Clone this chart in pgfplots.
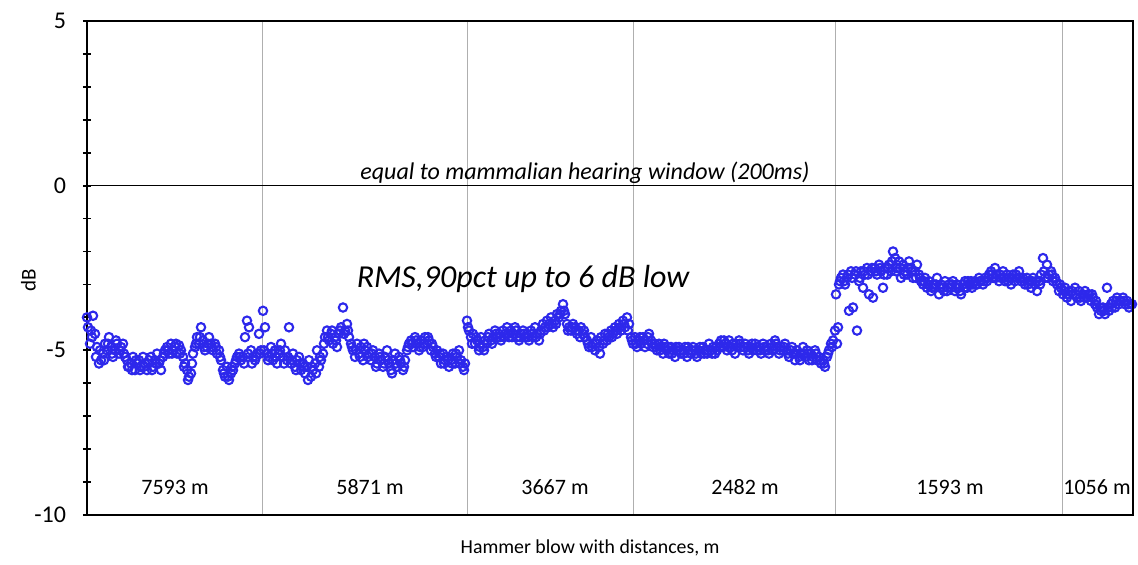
\documentclass[border=0pt]{standalone}
\usepackage{pgfplots}
\pgfplotsset{compat=1.18}
\usepackage{fontspec}
\setmainfont{Carlito}
\definecolor{ptblue}{RGB}{45,40,235}
\definecolor{gridgray}{RGB}{175,175,175}
\pgfplotsset{myscatter/.style={only marks, mark=o, mark size=2.1pt, mark options={draw=ptblue, line width=1.05pt, fill=white, solid}}}
\begin{document}
\begin{tikzpicture}
\path[use as bounding box] (0,0) rectangle (569pt,282.5pt);
\begin{axis}[
  name=ax,
  at={(43.5pt,25pt)}, anchor=south west,
  scale only axis, width=523pt, height=247pt,
  xmin=0, xmax=1046, ymin=-10, ymax=5,
  clip=false,
  axis line style={black, line width=1.2pt},
  xtick={175,380,546,748,975}, xticklabels={},
  x tick style={draw=none},
  xmajorgrids, grid style={gridgray, line width=0.5pt},
  ytick={-10,-5,0,5}, minor ytick={-9,-8,-7,-6,-4,-3,-2,-1,1,2,3,4},
  y tick style={black, line width=0.9pt},
  major tick length=4pt, minor tick length=4pt,
  tick align=center,
  ytick pos=left,
  /pgf/number format/assume math mode=true,
  yticklabel style={font=\fontsize{12}{14}\selectfont, xshift=-5pt},
  xlabel={Hammer blow with distances, m},
  xlabel style={font=\fontsize{9.9}{11}\selectfont, at={(axis description cs:0.481,-0.067)}, anchor=center},
  ylabel={dB},
  ylabel style={font=\fontsize{10.5}{12}\selectfont, at={(axis description cs:-0.056,0.476)}, anchor=center},
]
\addplot[black, line width=0.6pt, no marks] coordinates {(0,0) (1046,0)};
\addplot[myscatter] table {
x y
0 -4.0
1 -4.3
3 -4.8
4 -4.4
6 -3.95
8 -4.5
10 -4.9
12 -5.4
14 -5.3
16 -5.1
18 -4.8
20 -5.0
22 -4.6
24 -4.9
26 -5.2
28 -5.0
30 -4.8
32 -5.1
34 -4.9
36 -4.8
38 -5.2
40 -5.3
42 -5.5
44 -5.4
46 -5.2
48 -5.6
50 -5.4
52 -5.3
54 -5.5
56 -5.2
58 -5.4
60 -5.6
62 -5.3
64 -5.2
66 -5.5
68 -5.3
70 -5.1
72 -5.4
74 -5.6
76 -5.2
78 -5.0
80 -4.9
82 -5.1
84 -4.8
86 -5.0
88 -4.9
90 -5.1
92 -4.85
94 -5.0
96 -5.2
98 -5.4
100 -5.6
102 -5.8
104 -5.7
106 -5.1
108 -4.9
110 -4.6
112 -4.8
114 -4.3
116 -4.7
118 -5.0
120 -4.9
122 -4.6
124 -4.8
126 -5.0
128 -4.8
130 -5.1
132 -5.0
134 -5.3
136 -5.6
138 -5.8
140 -5.5
142 -5.9
144 -5.7
146 -5.6
148 -5.4
150 -5.2
152 -5.1
154 -5.3
156 -5.2
158 -4.6
160 -4.1
162 -4.3
164 -5.0
166 -5.2
168 -5.3
170 -5.1
172 -4.5
174 -5.0
176 -3.8
178 -4.3
180 -5.1
182 -5.2
184 -4.9
186 -5.3
188 -5.0
190 -5.4
192 -5.1
194 -4.8
196 -5.2
198 -5.0
200 -5.3
202 -4.3
204 -5.4
206 -5.1
208 -5.5
210 -5.3
212 -5.2
214 -5.6
216 -5.4
218 -5.7
220 -5.5
222 -5.3
224 -5.8
226 -5.6
228 -5.4
230 -5.0
232 -5.5
234 -5.3
236 -5.1
238 -4.6
240 -4.4
242 -4.7
244 -4.5
246 -4.8
248 -4.6
250 -4.9
252 -4.5
254 -4.3
256 -3.7
258 -4.4
260 -4.2
262 -4.6
264 -4.8
266 -5.0
268 -5.2
270 -4.8
272 -5.1
274 -4.9
276 -5.3
278 -5.0
280 -4.9
282 -5.1
284 -5.3
286 -5.0
288 -5.2
290 -5.4
292 -5.1
294 -5.3
296 -5.5
298 -5.2
300 -5.0
302 -5.4
304 -5.6
306 -5.3
308 -5.1
310 -5.5
312 -5.2
314 -5.4
316 -5.6
318 -5.3
320 -5.0
322 -4.8
324 -4.7
326 -4.9
328 -4.6
330 -4.8
332 -5.0
334 -4.7
336 -4.9
338 -4.6
340 -4.8
342 -4.7
344 -5.0
346 -4.9
348 -5.1
350 -5.0
352 -5.2
354 -5.4
356 -5.1
358 -5.3
360 -5.2
362 -5.5
364 -5.3
366 -5.1
368 -5.4
370 -5.2
372 -5.0
374 -5.3
376 -5.5
378 -5.4
380 -4.1
382 -4.4
384 -4.6
386 -4.5
388 -4.8
390 -4.7
392 -5.0
394 -4.6
396 -4.9
398 -4.7
400 -4.8
402 -4.5
404 -4.7
406 -4.6
408 -4.4
410 -4.6
412 -4.5
414 -4.7
416 -4.4
418 -4.5
420 -4.3
422 -4.6
424 -4.4
426 -4.5
428 -4.3
430 -4.6
432 -4.7
434 -4.5
436 -4.4
438 -4.6
440 -4.5
442 -4.7
444 -4.4
446 -4.6
448 -4.3
450 -4.5
452 -4.7
454 -4.4
456 -4.2
458 -4.3
460 -4.1
462 -4.2
464 -4.0
466 -4.3
468 -4.1
470 -3.9
472 -4.0
474 -3.8
476 -3.6
478 -3.9
480 -4.2
482 -4.3
484 -4.4
486 -4.2
488 -4.3
490 -4.5
492 -4.4
494 -4.3
496 -4.5
498 -4.6
500 -4.7
502 -4.9
504 -4.6
506 -4.8
508 -5.0
510 -4.7
512 -4.9
514 -4.6
516 -4.8
518 -4.5
520 -4.7
522 -4.6
524 -4.4
526 -4.5
528 -4.3
530 -4.5
532 -4.2
534 -4.4
536 -4.1
538 -4.3
540 -4.0
542 -4.2
544 -4.6
546 -4.8
548 -4.6
550 -4.9
552 -4.7
554 -4.8
556 -4.6
558 -4.9
560 -4.8
562 -4.5
564 -4.7
566 -4.9
568 -4.8
570 -5.0
572 -4.8
574 -4.9
576 -5.1
578 -4.9
580 -5.0
582 -5.1
584 -4.9
586 -5.0
588 -5.2
590 -5.0
592 -4.9
594 -5.1
596 -5.0
598 -4.9
600 -5.2
602 -5.0
604 -5.1
606 -4.9
608 -5.0
610 -5.2
612 -5.0
614 -5.1
616 -4.9
618 -5.0
620 -5.1
622 -4.8
624 -5.0
626 -4.9
628 -5.1
630 -5.0
632 -4.8
634 -4.7
636 -4.9
638 -4.8
640 -5.0
642 -4.7
644 -4.9
646 -4.8
648 -5.1
650 -4.9
652 -4.7
654 -4.9
656 -5.0
658 -4.8
660 -4.9
662 -5.1
664 -4.9
666 -5.0
668 -4.8
670 -5.0
672 -4.9
674 -5.1
676 -4.8
678 -5.0
680 -4.9
682 -5.1
684 -4.8
686 -5.0
688 -4.7
690 -4.9
692 -5.1
694 -4.9
696 -5.0
698 -4.8
700 -5.0
702 -5.2
704 -5.0
706 -5.1
708 -5.3
710 -5.0
712 -5.2
714 -5.1
716 -4.9
718 -5.2
720 -5.0
722 -5.3
724 -5.1
726 -5.2
728 -5.0
730 -5.3
732 -5.2
734 -5.4
736 -5.3
738 -5.5
740 -5.2
742 -5.0
744 -4.8
746 -4.7
748 -4.4
749 -3.3
750 -4.8
751 -4.3
752 -3.0
754 -2.8
756 -2.7
758 -3.0
760 -2.8
762 -3.8
764 -2.6
766 -3.7
768 -2.7
770 -4.4
772 -2.9
774 -2.6
776 -3.1
778 -2.7
780 -2.5
782 -3.3
784 -2.6
786 -3.4
788 -2.5
790 -2.7
792 -2.4
794 -2.6
796 -3.1
798 -2.5
800 -2.7
802 -2.4
804 -2.6
806 -2.0
808 -2.2
810 -2.5
812 -2.3
814 -2.8
816 -2.4
818 -2.6
820 -2.7
822 -2.3
824 -2.5
826 -2.8
828 -2.6
830 -2.4
832 -2.7
834 -2.9
836 -3.0
838 -2.8
840 -3.1
842 -2.9
844 -3.2
846 -3.0
848 -3.1
850 -2.8
852 -3.3
854 -3.0
856 -3.1
858 -2.9
860 -3.2
862 -3.0
864 -3.1
866 -2.9
868 -3.2
870 -3.0
872 -3.1
874 -3.3
876 -3.0
878 -2.9
880 -3.1
882 -3.0
884 -2.9
886 -3.0
888 -2.9
890 -3.0
892 -2.8
894 -2.9
896 -3.0
898 -2.8
900 -2.9
902 -2.7
904 -2.6
906 -2.8
908 -2.5
910 -2.7
912 -2.9
914 -2.8
916 -2.6
918 -2.9
920 -2.7
922 -2.8
924 -3.0
926 -2.7
928 -2.9
930 -2.8
932 -2.6
934 -2.9
936 -2.8
938 -3.0
940 -2.8
942 -2.9
944 -3.1
946 -2.8
948 -3.0
950 -3.2
952 -2.9
954 -2.7
956 -2.2
958 -2.8
960 -2.4
962 -2.7
964 -2.6
966 -2.9
968 -2.8
970 -3.0
972 -3.2
974 -3.1
976 -3.3
978 -3.1
980 -3.4
982 -3.2
984 -3.5
986 -3.3
988 -3.1
990 -3.4
992 -3.2
994 -3.5
996 -3.3
998 -3.2
1000 -3.4
1002 -3.3
1004 -3.5
1006 -3.4
1008 -3.6
1010 -3.7
1012 -3.9
1014 -3.8
1016 -3.7
1018 -3.9
1020 -3.1
1022 -3.8
1024 -3.6
1026 -3.5
1028 -3.7
1030 -3.4
1032 -3.6
1034 -3.5
1036 -3.4
1038 -3.6
1040 -3.5
1042 -3.7
1044 -3.6
};
\addplot[myscatter] table {
x y
5 -4.6
9 -5.2
13 -5.0
17 -5.3
21 -4.8
25 -5.1
29 -4.7
33 -5.0
37 -5.1
41 -5.5
45 -5.6
49 -5.3
53 -5.6
57 -5.5
61 -5.4
65 -5.6
69 -5.4
73 -5.3
77 -5.1
81 -5.0
85 -5.1
89 -4.8
93 -5.1
97 -5.5
101 -5.9
105 -5.4
109 -4.8
113 -4.6
117 -4.9
121 -4.8
125 -4.9
129 -4.9
133 -5.2
137 -5.7
141 -5.8
145 -5.5
149 -5.3
153 -5.2
157 -5.4
161 -5.1
165 -5.4
169 -5.2
173 -5.1
177 -5.0
181 -5.3
185 -5.1
189 -5.2
193 -5.0
197 -5.4
201 -5.2
205 -5.3
209 -5.6
213 -5.4
217 -5.5
221 -5.9
225 -5.5
229 -5.7
233 -5.2
237 -4.8
241 -4.6
245 -4.4
249 -4.7
253 -4.4
257 -4.5
261 -4.4
265 -4.9
269 -5.0
273 -5.2
277 -4.8
281 -5.2
285 -5.1
289 -5.5
293 -5.2
297 -5.4
301 -5.3
305 -5.7
309 -5.4
313 -5.3
317 -5.5
321 -4.9
325 -4.8
329 -4.7
333 -4.9
337 -4.8
341 -4.6
345 -4.8
349 -5.2
353 -5.1
357 -5.4
361 -5.3
365 -5.4
369 -5.1
373 -5.4
377 -5.6
381 -4.3
385 -4.8
389 -4.6
393 -4.9
397 -5.0
401 -4.6
405 -4.8
409 -4.5
413 -4.6
417 -4.6
421 -4.5
425 -4.6
429 -4.4
433 -4.6
437 -4.5
441 -4.6
445 -4.5
449 -4.6
453 -4.5
457 -4.4
461 -4.3
465 -4.2
469 -4.2
473 -3.9
477 -3.8
481 -4.4
485 -4.3
489 -4.4
493 -4.6
497 -4.4
501 -4.8
505 -4.9
509 -4.8
513 -5.1
517 -4.7
521 -4.5
525 -4.6
529 -4.4
533 -4.3
537 -4.2
541 -4.4
545 -4.7
549 -4.8
553 -4.6
557 -4.7
561 -4.6
565 -4.8
569 -4.9
573 -5.0
577 -4.8
581 -4.9
585 -5.1
589 -4.9
593 -5.0
597 -5.1
601 -4.9
605 -5.0
609 -5.1
613 -4.9
617 -5.1
621 -5.0
625 -5.1
629 -4.9
633 -4.9
637 -4.7
641 -4.9
645 -5.0
649 -4.8
653 -4.8
657 -4.9
661 -5.0
665 -4.8
669 -4.9
673 -5.0
677 -4.9
681 -5.0
685 -4.9
689 -4.8
693 -5.0
697 -4.9
701 -5.1
705 -4.9
709 -5.1
713 -5.3
717 -5.1
721 -5.1
725 -5.3
729 -5.1
733 -5.3
737 -5.4
741 -5.1
745 -4.9
753 -2.9
757 -2.9
761 -2.7
765 -2.8
769 -2.6
773 -2.8
777 -2.6
781 -2.7
785 -2.5
789 -2.6
793 -2.5
797 -2.7
801 -2.5
805 -2.3
809 -2.6
813 -2.5
817 -2.7
821 -2.5
825 -2.6
829 -2.8
833 -2.8
837 -2.9
841 -3.0
845 -3.1
849 -3.0
853 -3.1
857 -3.2
861 -3.1
865 -3.0
869 -3.1
873 -3.2
877 -3.1
881 -2.9
885 -3.1
889 -3.0
893 -2.9
897 -2.9
901 -2.8
905 -2.7
909 -2.8
913 -2.7
917 -2.8
921 -2.9
925 -2.8
929 -2.7
933 -2.8
937 -2.9
941 -3.0
945 -2.9
949 -2.9
953 -3.0
957 -2.6
961 -2.8
965 -2.7
969 -2.9
973 -3.0
977 -3.2
981 -3.3
985 -3.2
989 -3.3
993 -3.4
997 -3.4
1001 -3.3
1005 -3.3
1009 -3.5
1013 -3.7
1017 -3.8
1021 -3.7
1025 -3.7
1029 -3.5
1033 -3.5
1037 -3.5
1041 -3.6
1045 -3.6
};
\node[font=\fontsize{12}{14}\selectfont\itshape] at (axis cs:498,0.39) {equal to mammalian hearing window (200ms)};
\node[font=\fontsize{16}{18}\selectfont\itshape] at (axis cs:436,-2.82) {RMS,90pct up to 6 dB low};
\node[font=\fontsize{11}{13}\selectfont] at (axis cs:88,-9.15) {7593 m};
\node[font=\fontsize{11}{13}\selectfont] at (axis cs:283,-9.15) {5871 m};
\node[font=\fontsize{11}{13}\selectfont] at (axis cs:468,-9.15) {3667 m};
\node[font=\fontsize{11}{13}\selectfont] at (axis cs:658,-9.15) {2482 m};
\node[font=\fontsize{11}{13}\selectfont] at (axis cs:863,-9.15) {1593 m};
\node[font=\fontsize{11}{13}\selectfont] at (axis cs:1010,-9.15) {1056 m};
\end{axis}
\draw[black, line width=1.4pt] (ax.north west) -- (ax.north east) -- (ax.south east);
\end{tikzpicture}
\end{document}
